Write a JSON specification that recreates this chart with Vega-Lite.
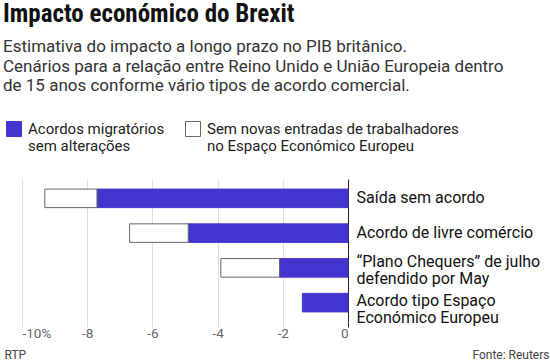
{
  "$schema": "https://vega.github.io/schema/vega-lite/v6.json",
  "width": 326,
  "height": 143,
  "padding": {"left": 3, "top": 2, "right": 2, "bottom": 2},
  "background": "white",
  "title": {
    "text": "Impacto económico do Brexit",
    "subtitle": ["Estimativa do impacto a longo prazo no PIB britânico.", "Cenários para a relação entre Reino Unido e União Europeia dentro", "de 15 anos conforme vário tipos de acordo comercial."],
    "anchor": "start",
    "frame": "group",
    "dx": -19,
    "offset": 27,
    "font": "Liberation Sans Narrow, Roboto Condensed, Roboto",
    "fontSize": 25,
    "fontWeight": "bold",
    "color": "#111",
    "subtitleFont": "Roboto",
    "subtitleFontSize": 17,
    "subtitleColor": "#333",
    "subtitleLineHeight": 19.5,
    "subtitlePadding": 12
  },
  "data": {
    "values": [
      {"cenario": "Saída sem acordo", "tipo": "Acordos migratórios|sem alterações", "valor": -7.7},
      {"cenario": "Saída sem acordo", "tipo": "Sem novas entradas de trabalhadores|no Espaço Económico Europeu", "valor": -1.6},
      {"cenario": "Acordo de livre comércio", "tipo": "Acordos migratórios|sem alterações", "valor": -4.9},
      {"cenario": "Acordo de livre comércio", "tipo": "Sem novas entradas de trabalhadores|no Espaço Económico Europeu", "valor": -1.8},
      {"cenario": "“Plano Chequers” de julho| defendido por May", "tipo": "Acordos migratórios|sem alterações", "valor": -2.1},
      {"cenario": "“Plano Chequers” de julho| defendido por May", "tipo": "Sem novas entradas de trabalhadores|no Espaço Económico Europeu", "valor": -1.8},
      {"cenario": "Acordo tipo Espaço|Económico Europeu", "tipo": "Acordos migratórios|sem alterações", "valor": -1.4}
    ]
  },
  "mark": {"type": "bar", "strokeWidth": 1},
  "encoding": {
    "y": {
      "field": "cenario",
      "type": "nominal",
      "sort": null,
      "scale": {"paddingInner": 0.467, "paddingOuter": 0.29},
      "axis": {
        "orient": "right",
        "title": "Fonte: Reuters",
        "titleAngle": 0,
        "titleX": 201,
        "titleY": 175,
        "titleAlign": "right",
        "titleBaseline": "middle",
        "titleFont": "Roboto",
        "titleFontSize": 12,
        "titleFontWeight": "normal",
        "titleColor": "#444",
        "domain": false,
        "ticks": false,
        "labelPadding": 8,
        "labelFont": "Roboto",
        "labelFontSize": 16,
        "labelColor": "#111",
        "labelLimit": 0,
        "labelLineHeight": 17.5,
        "labelOffset": {"condition": [{"test": "indexof(datum.value, 'Chequers') >= 0", "value": -6}, {"test": "indexof(datum.value, 'Espaço') >= 0", "value": -2}], "value": 0},
        "labelExpr": "split(datum.label, '|')"
      }
    },
    "x": {
      "field": "valor",
      "type": "quantitative",
      "stack": "zero",
      "scale": {"domain": [-10, 0], "nice": false},
      "axis": {
        "values": [-10, -8, -6, -4, -2, 0],
        "labelExpr": "datum.value == -10 ? '-10%' : (datum.value == 0 ? '0' : '-' + abs(datum.value))",
        "grid": true,
        "gridColor": {"condition": {"test": "datum.value == 0", "value": "#222"}, "value": "#dddddd"},
        "tickColor": {"condition": {"test": "datum.value == 0", "value": "#222"}, "value": "#dddddd"},
        "tickSize": 5,
        "domain": false,
        "labelPadding": -1,
        "labelFont": "Roboto",
        "labelFontSize": 13.5,
        "labelColor": "#666",
        "title": "RTP",
        "titleX": -18,
        "titleY": 32,
        "titleAlign": "left",
        "titleAnchor": "start",
        "titleBaseline": "middle",
        "titleFont": "Roboto",
        "titleFontSize": 12,
        "titleFontWeight": "normal",
        "titleColor": "#444"
      }
    },
    "color": {
      "field": "tipo",
      "type": "nominal",
      "scale": {"domain": ["Acordos migratórios|sem alterações", "Sem novas entradas de trabalhadores|no Espaço Económico Europeu"], "range": ["#4535CF", "#ffffff"]},
      "legend": {
        "title": null,
        "orient": "none",
        "legendX": -16,
        "legendY": -58,
        "direction": "horizontal",
        "columns": 2,
        "columnPadding": 18,
        "symbolType": "square",
        "symbolSize": 225,
        "symbolStrokeWidth": 1,
        "labelFont": "Roboto",
        "labelFontSize": 15,
        "labelColor": "#222",
        "labelOffset": 6,
        "labelLimit": 0,
        "labelLineHeight": 16,
        "labelExpr": "split(datum.label, '|')"
      }
    },
    "stroke": {
      "field": "tipo",
      "type": "nominal",
      "scale": {"domain": ["Acordos migratórios|sem alterações", "Sem novas entradas de trabalhadores|no Espaço Económico Europeu"], "range": ["#4535CF", "#666666"]},
      "legend": null
    },
    "order": {"field": "tipo", "sort": "ascending"}
  },
  "config": {
    "view": {"stroke": null},
    "font": "Roboto"
  }
}
